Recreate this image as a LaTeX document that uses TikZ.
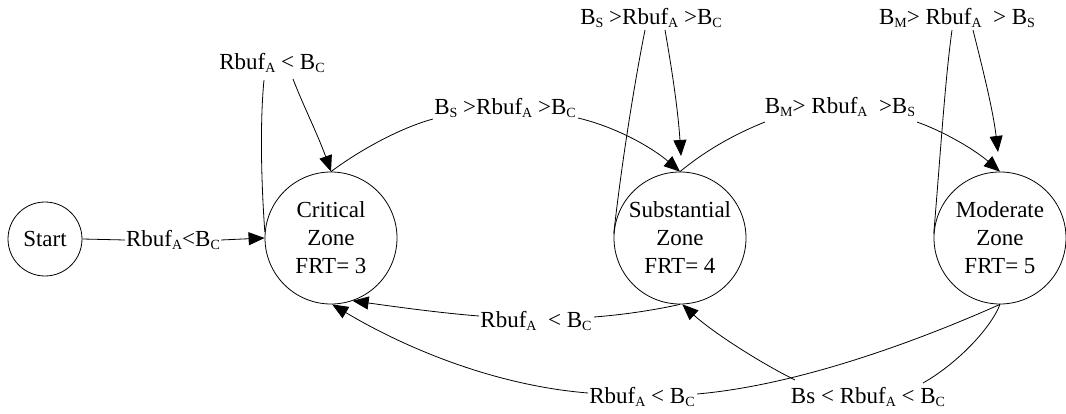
\documentclass[tikz,border=0pt]{standalone}
\usepackage{fontspec}
\setmainfont{Liberation Serif}
\usetikzlibrary{arrows.meta,calc}
% lowered, smaller index text
\newcommand\subtx[1]{\raisebox{-3pt}{\fontsize{14}{14}\selectfont #1}}

\begin{document}
\begin{tikzpicture}[x=1pt,y=-1pt,
  every node/.style={font=\fontsize{23}{28}\selectfont},
  state/.style={draw, circle, inner sep=0pt, minimum size=132pt, align=center, line width=0.8pt},
  lbl/.style={inner sep=1pt},
  edge/.style={line width=0.8pt},
  arr/.style={edge, -{Triangle[length=16pt,width=13pt]}}]

\useasboundingbox (0,0) rectangle (1066,414);

% states
\node[state, minimum size=74pt] (start) at (45,239) {Start};
\node[state] (crit) at (331,238) {Critical\\Zone\\FRT= 3};
\node[state] (sub)  at (680,238) {Substantial\\Zone\\FRT= 4};
\node[state] (mod)  at (1000,238) {Moderate\\Zone\\FRT= 5};

% transition labels
\node[lbl] (L1) at (173,240) {Rbuf\subtx{A}<B\subtx{C}};
\node[lbl] (L2) at (272,63)  {Rbuf\subtx{A} < B\subtx{C}};
\node[lbl] (L3) at (505,108) {B\subtx{S} >Rbuf\subtx{A} >B\subtx{C}};
\node[lbl] (L4) at (651,18)  {B\subtx{S} >Rbuf\subtx{A} >B\subtx{C}};
\node[lbl] (L5) at (840,107) {B\subtx{M}> Rbuf\subtx{A}\ \ >B\subtx{S}};
\node[lbl] (L6) at (957,18)  {B\subtx{M}> Rbuf\subtx{A}\ \ > B\subtx{S}};
\node[lbl] (L7) at (536,321) {Rbuf\subtx{A}\ \ < B\subtx{C}};
\node[lbl] (L8) at (642,397) {Rbuf\subtx{A} < B\subtx{C}};
\node[lbl] (L9) at (868,397) {Bs < Rbuf\subtx{A} < B\subtx{C}};

% label-side ends of the transitions
\coordinate (c2a) at (264,80);  \coordinate (c2b) at (293,79);
\coordinate (c3a) at (433,119); \coordinate (c3b) at (578,118);
\coordinate (c4a) at (645,30);  \coordinate (c4b) at (665,30);  \coordinate (c4t) at (681,156);
\coordinate (c5a) at (765,122); \coordinate (c5b) at (917,122);
\coordinate (c6a) at (952,30);  \coordinate (c6b) at (973,30);  \coordinate (c6t) at (998,152);
\coordinate (c7a) at (594,317); \coordinate (c7b) at (479,316);
\coordinate (c8a) at (697,394); \coordinate (c8b) at (588,393);
\coordinate (c9a) at (923,383); \coordinate (c9b) at (795,380);

% Start -> Critical
\draw[edge] (start.east) -- (L1.west);
\draw[arr] (L1.east) -- (crit.west);

% Critical self-loop
\draw[edge] (crit.175) .. controls (261,180) and (260,120) .. (c2a);
\draw[arr] (c2b) .. controls (303,105) and (318,135) .. (crit.north);

% Critical -> Substantial
\draw[edge] (crit.north) .. controls (360,150) and (400,128) .. (c3a);
\draw[arr] (c3b) .. controls (620,128) and (655,150) .. (sub.north);

% Substantial self-loop
\draw[edge] (sub.176) .. controls (622,160) and (635,80) .. (c4a);
\draw[arr] (c4b) .. controls (672,70) and (678,110) .. (c4t);

% Substantial -> Moderate
\draw[edge] (sub.north) .. controls (710,147) and (740,132) .. (c5a);
\draw[arr] (c5b) .. controls (945,132) and (975,150) .. (mod.north);

% Moderate self-loop
\draw[edge] (mod.176) .. controls (940,160) and (945,80) .. (c6a);
\draw[arr] (c6b) .. controls (983,70) and (993,110) .. (c6t);

% Substantial -> Critical
\draw[edge] (sub.south) .. controls (650,311) and (620,315) .. (c7a);
\draw[arr] (c7b) .. controls (440,313) and (390,306) .. (crit.-71);

% Moderate -> Critical
\draw[edge] (mod.south) .. controls (920,340) and (800,385) .. (c8a);
\draw[arr] (c8b) .. controls (490,385) and (400,345) .. (crit.-89);

% Moderate -> Substantial
\draw[edge] (mod.south) .. controls (990,330) and (955,365) .. (c9a);
\draw[arr] (c9b) .. controls (755,360) and (710,330) .. (sub.-88);

\end{tikzpicture}
\end{document}
